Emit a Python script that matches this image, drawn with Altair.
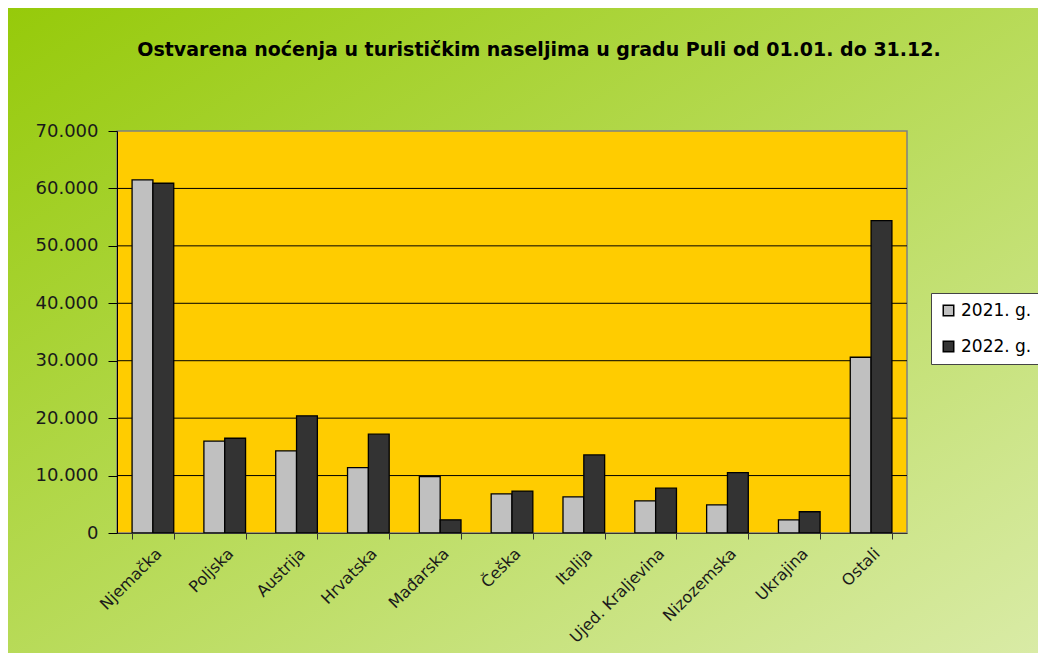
import altair as alt
import pandas as pd

# ---- data ----
categories = ["Njemačka", "Poljska", "Austrija", "Hrvatska", "Mađarska", "Češka",
              "Italija", "Ujed. Kraljevina", "Nizozemska", "Ukrajina", "Ostali"]
v2021 = [61500, 16000, 14300, 11400, 9800, 6800, 6300, 5600, 4900, 2300, 30600]
v2022 = [60900, 16500, 20400, 17200, 2300, 7300, 13600, 7800, 10500, 3700, 54400]
series = ["2021. g.", "2022. g."]
series_colors = ["#C0C0C0", "#333333"]
y_ticks = [0, 10000, 20000, 30000, 40000, 50000, 60000, 70000]
grid_values = [10000, 20000, 30000, 40000, 50000, 60000]
title_text = "Ostvarena noćenja  u turističkim naseljima  u gradu Puli od 01.01. do 31.12."

rows = []
for c, a, b in zip(categories, v2021, v2022):
    rows.append({"Država": c, "Godina": series[0], "Noćenja": a})
    rows.append({"Država": c, "Godina": series[1], "Noćenja": b})
df = pd.DataFrame(rows)

W, H = 790, 402
PL, PT, PR, PB = 109, 123, 131, 120
FONT = "DejaVu Sans"

yscale = alt.Scale(domain=[0, 70000], nice=False, zero=True)
y_axis = alt.Axis(title=None, values=y_ticks, grid=False,
                  labelExpr="replace(format(datum.value, ','), ',', '.')",
                  labelFontSize=18, labelColor="#1a1a1a", labelFont=FONT,
                  tickSize=9, tickColor="#000000", domainColor="#000000",
                  labelPadding=10, zindex=1)

one = pd.DataFrame({"k": [0]})

background = alt.Chart(one).mark_rect(
    fill=alt.LinearGradient(
        gradient="linear",
        stops=[alt.GradientStop(offset=0, color="#96CA0A"),
               alt.GradientStop(offset=1, color="#D9EBA6")],
        x1=0, y1=0, x2=1, y2=1),
).encode(x=alt.value(-PL), x2=alt.value(W + PR), y=alt.value(-PT), y2=alt.value(H + PB))

plot_area = alt.Chart(one).mark_rect(
    fill="#FFCC00", stroke="#808080", strokeWidth=1.5
).encode(x=alt.value(0), x2=alt.value(W), y=alt.value(0), y2=alt.value(H))

grid = alt.Chart(pd.DataFrame({"v": grid_values})).mark_rule(
    color="#000000", strokeWidth=1
).encode(y=alt.Y("v:Q", scale=yscale, axis=y_axis))

bars = alt.Chart(df).mark_bar(stroke="#000000", strokeWidth=1.3).encode(
    x=alt.X("Država:N", sort=categories,
            scale=alt.Scale(paddingInner=0.42, paddingOuter=0.21),
            axis=alt.Axis(title=None, labelAngle=-45, labelAlign="right", labelBaseline="top",
                          labelFontSize=16, labelColor="#1a1a1a", labelFont=FONT,
                          tickBand="extent", tickSize=6, tickColor="#333333",
                          domainColor="#333333", labelPadding=6, zindex=1)),
    xOffset=alt.XOffset("Godina:N", sort=series, scale=alt.Scale(paddingInner=0, paddingOuter=0)),
    y=alt.Y("Noćenja:Q", scale=yscale, axis=y_axis),
    color=alt.Color("Godina:N",
                    scale=alt.Scale(domain=series, range=series_colors),
                    legend=alt.Legend(title=None, orient="none", legendX=814, legendY=162,
                                      fillColor="#FFFFFF", strokeColor="#444444",
                                      padding=9, rowPadding=18, symbolType="square",
                                      symbolSize=110, symbolStrokeColor="#000000",
                                      symbolStrokeWidth=1.5, symbolOpacity=1,
                                      labelFontSize=17, labelFont=FONT, labelColor="#000000",
                                      labelOffset=4, labelLimit=200)),
    tooltip=["Država", "Godina", "Noćenja"],
)

chart = alt.layer(background, plot_area, grid, bars).properties(
    width=W, height=H,
    autosize=alt.AutoSizeParams(type="none"),
    padding={"left": PL, "top": PT, "right": PR, "bottom": PB},
    title=alt.TitleParams(title_text, font=FONT, fontSize=19, fontWeight="bold",
                          color="#000000", anchor="middle", frame="group", dx=27, offset=-52),
).configure_view(strokeWidth=0)

chart.save("out.html", embed_options={"renderer": "svg", "actions": False})
